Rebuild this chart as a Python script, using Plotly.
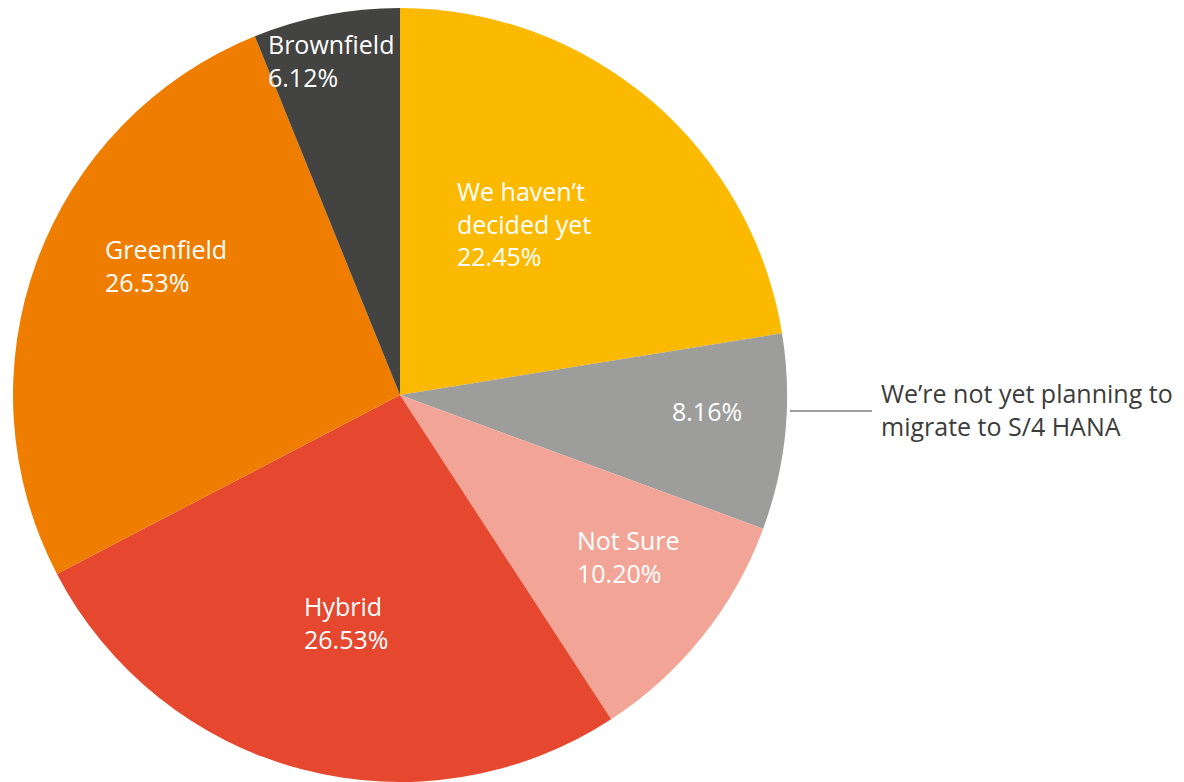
import plotly.graph_objects as go

# Survey answers, clockwise from 12 o'clock
categories = [
    "We haven’t decided yet",
    "We’re not yet planning to migrate to S/4 HANA",
    "Not Sure",
    "Hybrid",
    "Greenfield",
    "Brownfield",
]
shares = [22.45, 8.16, 10.20, 26.53, 26.53, 6.12]

# Label lines shown inside each slice (empty -> only the percentage)
inside_names = [["We haven’t", "decided yet"], [], ["Not Sure"], ["Hybrid"], ["Greenfield"], ["Brownfield"]]
outside_name = ["We’re not yet planning to", "migrate to S/4 HANA"]

colors = ["#FBB900", "#9D9D9C", "#F2A596", "#E6472F", "#EF7D00", "#434342"]

W, H = 1184, 782
cx, cy, r = 400, 395, 387

fig = go.Figure(
    go.Pie(
        labels=categories,
        values=shares,
        sort=False,
        direction="clockwise",
        rotation=0,
        marker=dict(colors=colors, line=dict(width=0)),
        textinfo="none",
        hoverinfo="label+value",
        showlegend=False,
        domain=dict(
            x=[(cx - r) / W, (cx + r) / W],
            y=[(H - cy - r) / H, (H - cy + r) / H],
        ),
    )
)

FONT = "Open Sans"
FS = 25
LINE = 29  # nominal px between baselines of a label block


def text_block(lines, px, baseline, color):
    """Left-aligned multi-line label; `baseline` is the first line's baseline (px)."""
    last = baseline + (len(lines) - 1) * LINE
    ymid = (baseline + last) / 2 - 9
    fig.add_annotation(
        x=px / W, y=1 - ymid / H, xref="paper", yref="paper",
        xanchor="left", yanchor="middle", align="left",
        text="<br>".join(lines), showarrow=False,
        font=dict(family=FONT, size=FS, color=color),
    )


# left edge and first baseline of each in-slice label, in pixels
label_pos = [(455, 203), (670, 420), (575, 551), (302, 617), (103, 260), (266, 55)]

for name, val, (px, py) in zip(inside_names, shares, label_pos):
    text_block(name + [f"{val:.2f}%"], px, py, "white")

# leader line and outside label for the grey slice
fig.add_shape(type="line", xref="paper", yref="paper",
              x0=790 / W, x1=872 / W, y0=1 - 411 / H, y1=1 - 411 / H,
              line=dict(color="#3C3C3B", width=1))
text_block(outside_name, 879, 404, "#3C3C3B")

fig.update_layout(
    width=W, height=H,
    margin=dict(l=0, r=0, t=0, b=0),
    paper_bgcolor="white",
    plot_bgcolor="white",
)

fig.write_html("out.html")
